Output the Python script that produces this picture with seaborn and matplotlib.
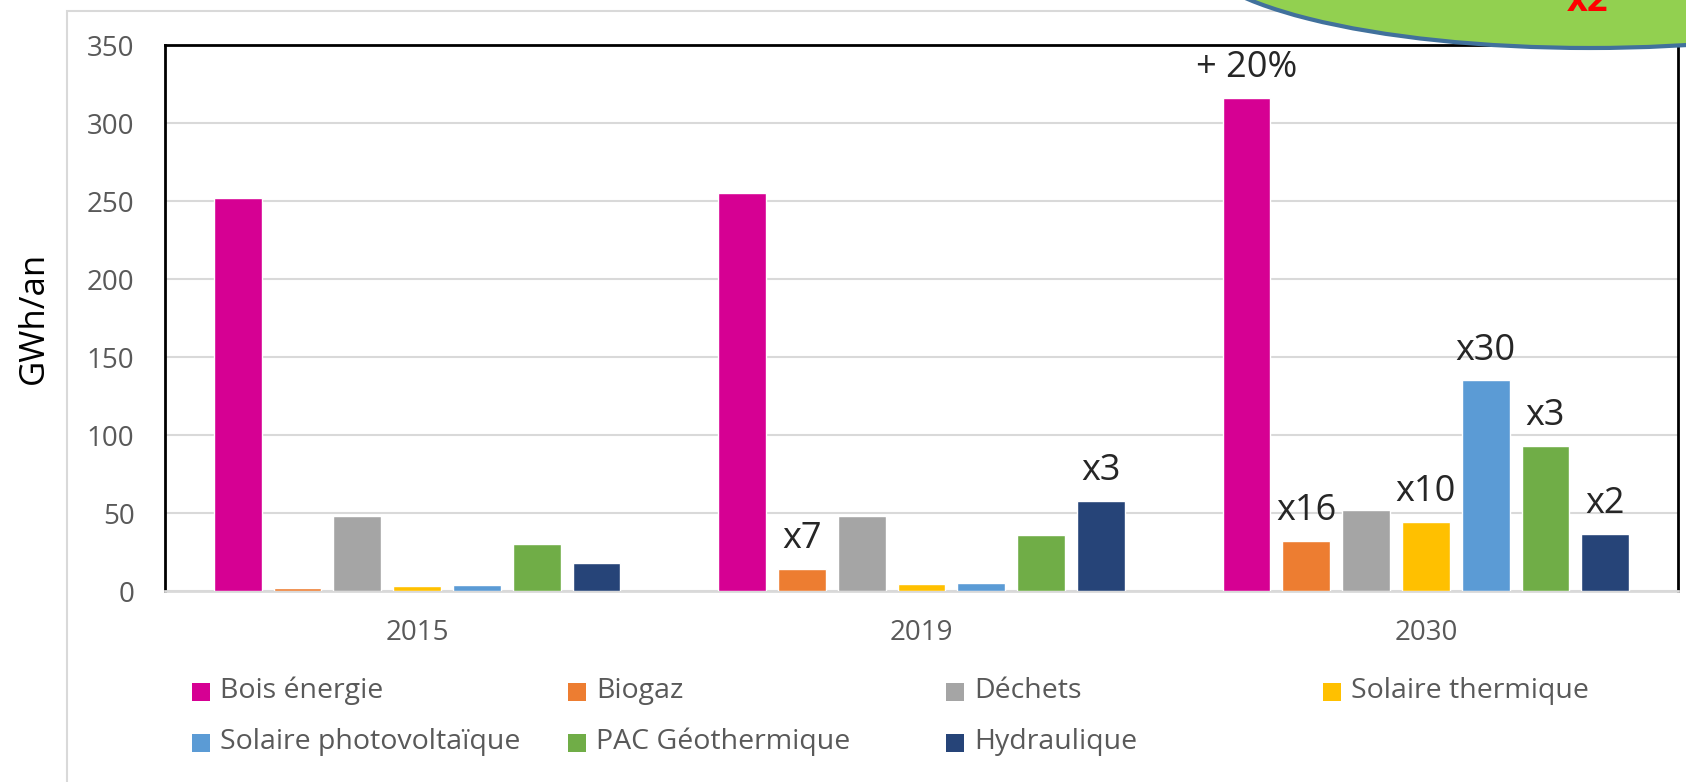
import matplotlib.pyplot as plt
from matplotlib.patches import Ellipse, Rectangle
import pandas as pd
import seaborn as sns

years = ["2015", "2019", "2030"]
sources = ["Bois énergie", "Biogaz", "Déchets", "Solaire thermique",
           "Solaire photovoltaïque", "PAC Géothermique", "Hydraulique"]
colors = ["#D60093", "#ED7D31", "#A5A5A5", "#FFC000", "#5B9BD5", "#70AD47", "#264478"]

# GWh/an, one list per source: 2015, 2019, 2030
bois = [252, 255, 316]
biogaz = [1.7, 14, 32]
dechets = [48, 48, 52]
solaire_th = [3, 4.3, 44.5]
solaire_pv = [3.6, 5, 135]
pac = [30, 36, 93]
hydro = [18, 57.5, 36.5]

# growth labels above bars ("" = no label)
labels = {
    "Bois énergie": ["", "", "+ 20%"],
    "Biogaz": ["", "x7", "x16"],
    "Déchets": ["", "", ""],
    "Solaire thermique": ["", "", "x10"],
    "Solaire photovoltaïque": ["", "", "x30"],
    "PAC Géothermique": ["", "", "x3"],
    "Hydraulique": ["", "x3", "x2"],
}

values = [bois, biogaz, dechets, solaire_th, solaire_pv, pac, hydro]
rows = []
for src, vals in zip(sources, values):
    for yr, v in zip(years, vals):
        rows.append({"year": yr, "source": src, "value": v})
df = pd.DataFrame(rows)

sns.set_style("white")
plt.rcParams['font.family'] = ['Open Sans', 'DejaVu Sans']

W, H = 1686, 782
fig = plt.figure(figsize=(W / 100, H / 100), dpi=100)
ax = fig.add_axes([165 / W, 1 - 591 / H, (1678 - 165) / W, (591 - 45) / H])

sns.barplot(data=df, x="year", y="value", hue="source", order=years,
            hue_order=sources, palette=colors, width=0.83, gap=0.2,
            saturation=1, legend=False, ax=ax, zorder=3)

ax.set_ylim(0, 350)
ax.set_yticks(range(0, 351, 50))
ax.grid(axis="y", color="#D9D9D9", linewidth=1.5, zorder=0)
ax.set_axisbelow(True)
ax.tick_params(length=0, labelsize=20, labelcolor="#595959")
ax.tick_params(axis="y", pad=22)
ax.tick_params(axis="x", pad=20)
ax.set_xlabel("")
ax.set_ylabel("GWh/an", fontsize=25, color="black")
ax.yaxis.set_label_coords((51 - 165) / 1513, 0.5)
for side in ["left", "top", "right"]:
    ax.spines[side].set_color("black")
    ax.spines[side].set_linewidth(2)
ax.spines["bottom"].set_color("#D9D9D9")
ax.spines["bottom"].set_linewidth(2)

# growth labels
for src, cont in zip(sources, ax.containers):
    for bar, txt in zip(cont, labels[src]):
        if txt:
            ax.annotate(txt, (bar.get_x() + bar.get_width() / 2, bar.get_height()),
                        xytext=(0, 15), textcoords="offset points",
                        ha="center", va="baseline", fontsize=26, zorder=5)

# legend laid out like the original (4 evenly spaced columns)
col_x = [201, 577, 955, 1332]
row_y = [692, 743]
for i, (src, col) in enumerate(zip(sources, colors)):
    cx = col_x[i % 4]
    cy = row_y[i // 4]
    fig.add_artist(Rectangle(((cx - 9) / W, 1 - (cy + 9) / H), 18 / W, 18 / H,
                             transform=fig.transFigure, facecolor=col, edgecolor="none"))
    fig.text((cx + 19) / W, 1 - (cy - 1) / H, src, fontsize=20.5, color="#595959",
             ha="left", va="center")

# outer frame of the chart
fig.add_artist(Rectangle((67 / W, -0.1), 1.2, 1.1 - 11 / H, transform=fig.transFigure,
                         facecolor="none", edgecolor="#D9D9D9", linewidth=1.5, zorder=1))

# green callout shape cut by the top edge
fig.add_artist(Ellipse((1590 / W, 1 + 52 / H), 796 / W, 200 / H, transform=fig.transFigure,
                       facecolor="#92D050", edgecolor="#41719C", linewidth=3, zorder=6))
fig.text(1588 / W, 1 - 11 / H, "x2", color="#FF0000", fontsize=26, fontweight="bold",
         ha="center", va="baseline", zorder=7)

fig.savefig("out.png", dpi=100)
